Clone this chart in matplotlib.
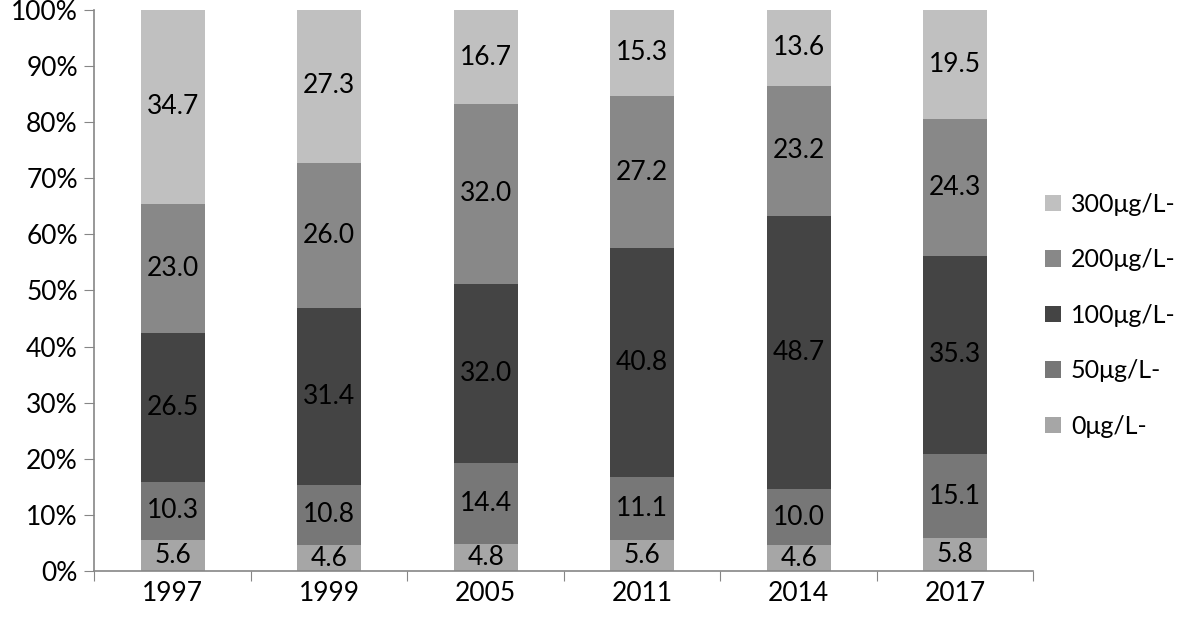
import matplotlib.pyplot as plt
from matplotlib.ticker import FixedLocator, PercentFormatter

plt.rcParams['font.family'] = ['Lato', 'DejaVu Sans']

years = ['1997', '1999', '2005', '2011', '2014', '2017']
series = ['0μg/L-', '50μg/L-', '100μg/L-', '200μg/L-', '300μg/L-']
v0 = [5.6, 4.6, 4.8, 5.6, 4.6, 5.8]
v50 = [10.3, 10.8, 14.4, 11.1, 10.0, 15.1]
v100 = [26.5, 31.4, 32.0, 40.8, 48.7, 35.3]
v200 = [23.0, 26.0, 32.0, 27.2, 23.2, 24.3]
v300 = [34.7, 27.3, 16.7, 15.3, 13.6, 19.5]
colors = ['#a6a6a6', '#777777', '#444444', '#888888', '#c0c0c0']

fig = plt.figure(figsize=(11.81, 6.2), dpi=100)
ax = fig.add_axes([0.0800, 0.079, 0.795, 0.905])

x = list(range(len(years)))
bottom = [0.0] * len(years)
handles = []
for vals, name, c in zip([v0, v50, v100, v200, v300], series, colors):
    b = ax.bar(x, vals, 0.41, bottom=bottom, color=c, label=name)
    handles.append(b)
    for xi, v, bt in zip(x, vals, bottom):
        ax.text(xi, bt + v / 2, '%.1f' % v, ha='center', va='center',
                fontsize=19, color='black')
    bottom = [bt + v for bt, v in zip(bottom, vals)]

ax.set_xlim(-0.5, 5.5)
ax.set_ylim(0, 100)
ax.yaxis.set_major_locator(FixedLocator(range(0, 101, 10)))
ax.yaxis.set_major_formatter(PercentFormatter(decimals=0))
ax.xaxis.set_major_locator(FixedLocator([i - 0.5 for i in range(7)]))
ax.xaxis.set_major_formatter(plt.NullFormatter())
ax.xaxis.set_minor_locator(FixedLocator(x))
ax.set_xticklabels(years, minor=True)
ax.tick_params(axis='x', which='minor', length=0, labelsize=19, pad=7)
ax.tick_params(axis='x', which='major', length=7, color='#868686')
ax.tick_params(axis='y', length=7, color='#868686', labelsize=19, pad=5)

for s in ['top', 'right']:
    ax.spines[s].set_visible(False)
for s in ['left', 'bottom']:
    ax.spines[s].set_color('#868686')
    ax.spines[s].set_linewidth(1.2)

ax.legend(handles[::-1], series[::-1], loc='center left',
          bbox_to_anchor=(1.012, 0.456), frameon=False, fontsize=18,
          borderpad=0, borderaxespad=0,
          handlelength=0.65, handleheight=0.65, handletextpad=0.4,
          labelspacing=1.3)

fig.savefig('out.png', dpi=100)
